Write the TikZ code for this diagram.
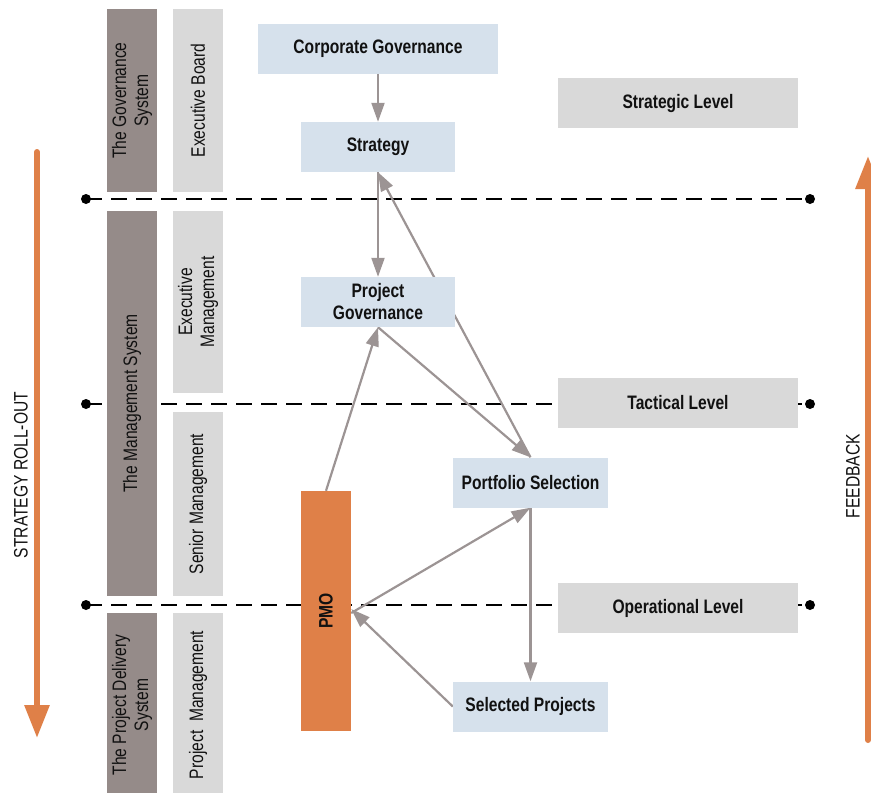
\documentclass[tikz,border=0pt]{standalone}
\usepackage{fontspec}
\setmainfont{Liberation Sans}[FakeStretch=0.8]
\usetikzlibrary{arrows.meta,backgrounds}

\definecolor{sysdark}{HTML}{958B89}
\definecolor{syslight}{HTML}{D9D9D9}
\definecolor{stepblue}{HTML}{D6E1EC}
\definecolor{accent}{HTML}{DF8048}
\definecolor{flowgray}{HTML}{9C9494}
\definecolor{ink}{HTML}{111111}

\tikzset{
  lbl/.style={font=\fontsize{19.5}{22}\selectfont, text=ink, align=center},
  boldlbl/.style={font=\bfseries\fontsize{19.5}{22}\selectfont, text=ink, align=center},
  sysbar/.style={lbl, rectangle, fill=sysdark, inner sep=0pt, rotate=90, minimum height=50pt},
  rolebar/.style={lbl, rectangle, fill=syslight, inner sep=0pt, rotate=90, minimum height=50pt},
  stepbox/.style={boldlbl, rectangle, fill=stepblue, inner sep=0pt, minimum height=50pt},
  levelbox/.style={boldlbl, rectangle, fill=syslight, inner sep=0pt, minimum width=240pt, minimum height=50pt},
  flow/.style={draw=flowgray, line width=2.2pt, -{Triangle[length=19pt,width=13pt]}},
  divider/.style={draw=black, line width=2pt, dash pattern=on 16pt off 9pt},
  enddot/.style={circle, fill=black, inner sep=0pt, minimum size=10pt},
  bigarrow/.style={draw=accent, line width=6pt, line cap=round, -{Triangle[length=33pt,width=24pt]}},
}

\begin{document}
\begin{tikzpicture}[x=1pt, y=-1pt]
  \useasboundingbox (0,0) rectangle (871,793);

  % organisational systems (dark) and roles (light)
  \node[sysbar, minimum width=183pt] (govsys) at (132,100.5) {The Governance\\System};
  \node[rolebar, minimum width=183pt] (board) at (198,100.5) {Executive Board};
  \node[sysbar, minimum width=385pt] (mgmtsys) at (132,403.5) {The Management System};
  \node[rolebar, minimum width=182pt] (execmgmt) at (198,302) {Executive\\Management};
  \node[rolebar, minimum width=184pt] (seniormgmt) at (198,504) {Senior Management};
  \node[sysbar, minimum width=184pt] (delivsys) at (132,705) {The Project Delivery\\System};
  \node[rolebar, minimum width=184pt] (projmgmt) at (198,705) {Project\ \ Management};

  % process steps
  \node[stepbox, minimum width=240pt] (cg) at (378,49) {Corporate Governance};
  \node[stepbox, minimum width=154pt] (strat) at (378,147) {Strategy};
  \node[stepbox, minimum width=154pt] (pg) at (378,302) {Project\\Governance};
  \node[stepbox, minimum width=155pt] (ps) at (530.5,482.5) {Portfolio Selection};
  \node[stepbox, minimum width=155pt] (sp) at (530.5,706.5) {Selected Projects};
  \node[boldlbl, rectangle, fill=accent, inner sep=0pt, rotate=90,
        minimum width=240pt, minimum height=50pt] (pmo) at (326,611) {PMO};

  % levels
  \node[levelbox] (lstrat) at (678,103) {Strategic Level};
  \node[levelbox] (ltact) at (678,403) {Tactical Level};
  \node[levelbox] (loper) at (678,608) {Operational Level};

  % level boundaries
  \node[enddot] (d1l) at (86,199) {};
  \node[enddot] (d1r) at (810,199) {};
  \node[enddot] (d2l) at (86,404) {};
  \node[enddot] (d2r) at (810,404) {};
  \node[enddot] (d3l) at (86,605) {};
  \node[enddot] (d3r) at (810,605) {};

  \begin{pgfonlayer}{background}
    \draw[divider] (d1l.center) -- (d1r.center);
    \draw[divider] (d2l.center) -- (d2r.center);
    \draw[divider] (d3l.center) -- (d3r.center);

    \draw[flow] (cg.south) -- (strat.north);
    \draw[flow] (strat.south) -- (pg.north);
    \draw[flow] (ps.north) -- (strat.south);
    \draw[flow] (pg.south) -- (ps.north);
    \draw[flow] (pmo.east) -- (pg.south);
    \draw[flow] ([yshift=-2pt]pmo.south) -- (ps.south);
    \draw[flow] (sp.west) -- ([yshift=2pt]pmo.south);
    \draw[flow] (ps.south) -- (sp.north);
  \end{pgfonlayer}

  % roll-out and feedback
  \coordinate (rollA) at (37,152);
  \coordinate (rollB) at (37,738);
  \coordinate (fbA) at (868,740);
  \coordinate (fbB) at (868,156);
  \draw[bigarrow] (rollA) -- (rollB);
  \draw[bigarrow] (fbA) -- (fbB);
  \node[lbl, rotate=90] (rolltxt) at (21,475) {STRATEGY ROLL-OUT};
  \node[lbl, rotate=90] (fbtxt) at (853,476) {FEEDBACK};
\end{tikzpicture}
\end{document}
